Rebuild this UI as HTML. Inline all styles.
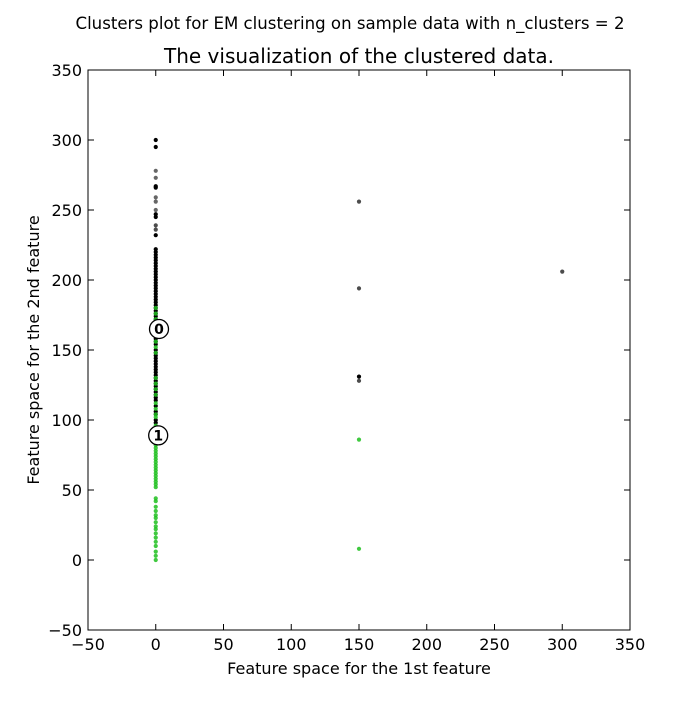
<!DOCTYPE html>
<html><head><meta charset="utf-8"><style>
html,body{margin:0;padding:0;background:#fff;}
svg text{font-family:"DejaVu Sans","Liberation Sans",sans-serif;}
</style></head><body>
<svg id="chart" width="700" height="700" xmlns="http://www.w3.org/2000/svg">
<rect width="700" height="700" fill="#fff"/>
<text x="350" y="29" text-anchor="middle" font-size="16.6">Clusters plot for EM clustering on sample data with n_clusters = 2</text>
<text x="359" y="63" text-anchor="middle" font-size="20">The visualization of the clustered data.</text>
<g id="marks"></g>
<g id="axes"></g>
<text x="359" y="674" text-anchor="middle" font-size="16">Feature space for the 1st feature</text>
<text transform="translate(39,350) rotate(-90)" text-anchor="middle" font-size="16">Feature space for the 2nd feature</text>
</svg>
<script>
const xTicks=[-50,0,50,100,150,200,250,300,350];
const yTicks=[-50,0,50,100,150,200,250,300,350];
const c0X=[0,0,0,0,0,0,0,0,0,0,0,0,0,0,0,0,0,0,0,0,0,0,0,0,0,0,0,0,0,0,0,0,0,0,0,0,0,0,0,0,0,0,0,0,0,0,0,0,0,0,0,0,0,0,0,0,0,0,0,0,0,0,0,0,0,0,0,0,0,0,0,0,150,150,150,150,300];
const c0Y=[300,295,278,273,267,266,259,256,250,247,245,239,236,232,222,220,218,216,214,212,210,208,206,204,202,200,198,196,194,192,190,188,186,184,182,180,178,176,174,172,170,168,166,162,160,158,156,154,150,148,146,144,142,140,138,136,134,132,130,128,126,124,122,120,118,116,114,110,106,104,100,98,256,194,131,128,206];
const c0Alpha=[1,1,0.6,0.6,1,1,0.6,0.6,0.6,1,1,0.7,0.7,1,1,1,1,1,1,1,1,1,1,1,1,1,1,1,1,1,1,1,1,1,1,1,1,1,1,1,1,1,1,1,1,1,1,1,1,1,1,1,1,1,1,1,1,1,1,1,1,1,1,1,1,1,1,1,1,1,1,1,0.7,0.7,1,0.7,0.7];
const c1X=[0,0,0,0,0,0,0,0,0,0,0,0,0,0,0,0,0,0,0,0,0,0,0,0,0,0,0,0,0,0,0,0,0,0,0,0,0,0,0,0,0,0,0,0,0,0,0,0,0,150,150];
const c1Y=[180,176,172,156,152,148,130,126,122,118,112,108,104,102,96,92,86,82,80,78,76,74,72,70,68,66,64,62,60,58,56,54,52,44,42,38,35,32,30,27,24,22,19,16,13,10,6,3,0,86,8];
const centerLabels=["0","1"];
const centerX=[2.4,1.8];
const centerY=[165,89];
const X0=88,X1=630,Y0=70,Y1=630,XMIN=-50,XMAX=350,YMIN=-50,YMAX=350;
function sx(v){return X0+(v-XMIN)/(XMAX-XMIN)*(X1-X0);}
function sy(v){return Y1-(v-YMIN)/(YMAX-YMIN)*(Y1-Y0);}
const NS="http://www.w3.org/2000/svg";
function mk(t,a,p){const e=document.createElementNS(NS,t);for(const k in a)e.setAttribute(k,a[k]);p.appendChild(e);return e;}
const marks=document.getElementById('marks'),axes=document.getElementById('axes');
for(let i=0;i<c0X.length;i++){
 const c=mk('circle',{cx:sx(c0X[i]),cy:sy(c0Y[i]),r:2.1,fill:'#000','fill-opacity':c0Alpha[i]},marks);
 
 
}
for(let i=0;i<c1X.length;i++){
 const c=mk('circle',{cx:sx(c1X[i]),cy:sy(c1Y[i]),r:2.1,fill:'#1fc01f','fill-opacity':0.85},marks);
 
 
}
for(let i=0;i<centerX.length;i++){
 const g=mk('g',{},marks);
 
 
 mk('circle',{cx:sx(centerX[i]),cy:sy(centerY[i]),r:9.5,fill:'#fff',stroke:'#000','stroke-width':1.3},g);
 const t=mk('text',{x:sx(centerX[i]),y:sy(centerY[i])+5,'text-anchor':'middle','font-size':14,'font-weight':'bold'},g);
 t.textContent=centerLabels[i];
}
const frame=mk('rect',{x:X0,y:Y0,width:X1-X0,height:Y1-Y0,fill:'none',stroke:'#000','stroke-width':1},axes);


xTicks.forEach(v=>{
 const x=sx(v);
 mk('line',{x1:x,x2:x,y1:Y1,y2:Y1-6,stroke:'#000'},axes);
 mk('line',{x1:x,x2:x,y1:Y0,y2:Y0+6,stroke:'#000'},axes);
 const t=mk('text',{x:x,y:Y1+20,'text-anchor':'middle','font-size':16},axes);
 t.textContent=v<0?'\u2212'+(-v):v;
 
 
});
yTicks.forEach(v=>{
 const y=sy(v);
 mk('line',{x1:X0,x2:X0+6,y1:y,y2:y,stroke:'#000'},axes);
 mk('line',{x1:X1,x2:X1-6,y1:y,y2:y,stroke:'#000'},axes);
 const t=mk('text',{x:X0-6,y:y+6,'text-anchor':'end','font-size':16},axes);
 t.textContent=v<0?'\u2212'+(-v):v;
 
 
});
</script>
</body></html>
